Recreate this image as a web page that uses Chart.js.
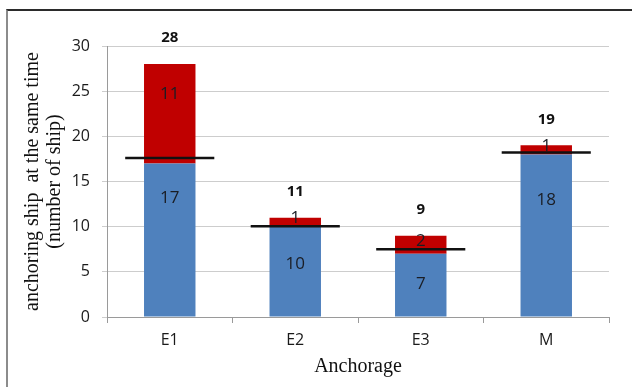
<!DOCTYPE html>
<html>
<head>
<meta charset="utf-8">
<script src="https://cdn.jsdelivr.net/npm/chart.js@4/dist/chart.umd.min.js"></script>
<style>
  html, body { margin: 0; padding: 0; background: #fff; }
  #wrap { position: relative; width: 632px; height: 387px; overflow: hidden; }
  #frame { position: absolute; left: 6px; top: 9px; width: 700px; height: 500px;
           border-top: 2px solid #2b2b2b; border-left: 2px solid #8c8c8c; }
  canvas { position: absolute; left: 0; top: 0; }
</style>
</head>
<body>
<div id="wrap">
  <div id="frame"></div>
  <canvas id="chart" width="632" height="387"></canvas>
</div>
<script>
// Ships anchoring at the same time, per anchorage
const anchorages = ['E1', 'E2', 'E3', 'M'];
const baseShips = [17, 10, 7, 18];
const extraShips = [11, 1, 2, 1];
const totals = [28, 11, 9, 19];
// black reference level drawn across each bar
const refLevel = [17.6, 10.05, 7.5, 18.2];
// where the in-bar numbers sit (axis units)
const baseLabelAt = [13.2, 5.8, 3.6, 12.9];
const extraLabelAt = [24.7, 10.9, 8.4, 18.9];
const yTicks = [0, 5, 10, 15, 20, 25, 30];

const sans = 'Open Sans';
const serif = 'Liberation Serif';

const overlay = {
  id: 'overlay',
  afterDatasetsDraw(chart) {
    const { ctx, scales: { x, y } } = chart;
    const slot = (x.getPixelForValue(1) - x.getPixelForValue(0));

    // reference lines
    ctx.save();
    ctx.strokeStyle = '#111';
    ctx.lineWidth = 2.5;
    refLevel.forEach((v, i) => {
      const cx = x.getPixelForValue(i);
      const py = y.getPixelForValue(v);
      ctx.beginPath();
      ctx.moveTo(cx - slot * 0.355, py);
      ctx.lineTo(cx + slot * 0.355, py);
      ctx.stroke();
    });
    ctx.restore();

    // numbers inside the bars and totals on top
    ctx.save();
    ctx.textAlign = 'center';
    ctx.textBaseline = 'middle';
    ctx.fillStyle = '#1a1d24';
    ctx.font = '17px "' + sans + '"';
    anchorages.forEach((c, i) => {
      const cx = x.getPixelForValue(i);
      ctx.fillText(String(baseShips[i]), cx, y.getPixelForValue(baseLabelAt[i]));
      ctx.fillText(String(extraShips[i]), cx, y.getPixelForValue(extraLabelAt[i]));
    });
    ctx.fillStyle = '#111';
    ctx.font = 'bold 15px "' + sans + '"';
    const top = chart.getDatasetMeta(1).data;
    totals.forEach((t, i) => {
      ctx.fillText(String(t), top[i].x, top[i].y - 26);
    });
    ctx.restore();
  }
};

new Chart(document.getElementById('chart'), {
  type: 'bar',
  data: {
    labels: anchorages,
    datasets: [
      { data: baseShips, backgroundColor: '#4f81bd', barPercentage: 0.41, categoryPercentage: 1 },
      { data: extraShips, backgroundColor: '#c00000', barPercentage: 0.41, categoryPercentage: 1 }
    ]
  },
  options: {
    responsive: false,
    animation: false,
    layout: { padding: { top: 46, right: 23, left: 0, bottom: 0 } },
    plugins: { legend: { display: false }, tooltip: { enabled: false } },
    scales: {
      x: {
        stacked: true,
        afterFit: s => { s.height = 70; },
        grid: { drawOnChartArea: false, drawTicks: true, tickLength: 6, color: '#9a9a9a', offset: true },
        border: { color: '#9a9a9a', width: 1 },
        ticks: { color: '#1a1a1a', font: { family: sans, size: 16 }, padding: 8 },
        title: {
          display: true, text: 'Anchorage', color: '#111',
          font: { family: serif, size: 20, lineHeight: 1.1 }, padding: { top: 0, bottom: 9 }
        }
      },
      y: {
        stacked: true,
        min: 0, max: 30,
        afterFit: s => { s.width = 107; },
        afterBuildTicks: s => { s.ticks = yTicks.map(v => ({ value: v })); },
        grid: { color: '#cdcdcd', tickLength: 5, drawTicks: true },
        border: { color: '#9a9a9a', width: 1 },
        ticks: { color: '#1a1a1a', font: { family: sans, size: 16 }, padding: 12 },
        title: {
          display: true,
          text: ['anchoring ship  at the same time', '(number of ship)'],
          color: '#111',
          font: { family: serif, size: 20, lineHeight: 1.1 },
          padding: { top: 22, bottom: 0 }
        }
      }
    }
  },
  plugins: [overlay]
});
</script>
</body>
</html>
